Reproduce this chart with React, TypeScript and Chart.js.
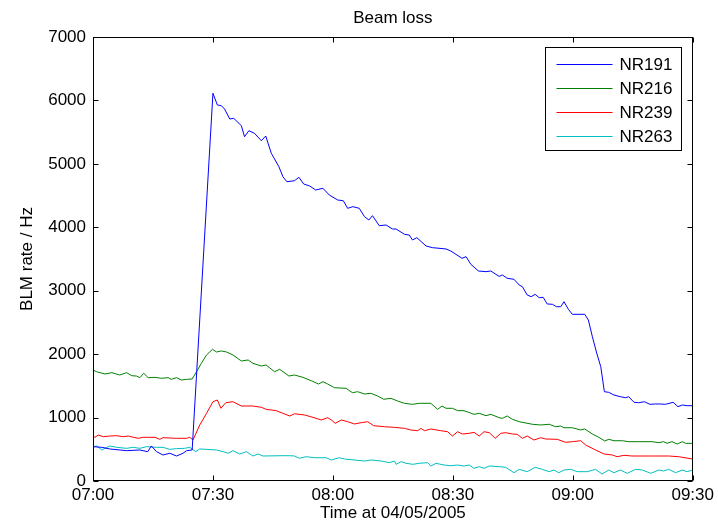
import React, { useEffect, useRef } from "react";
import { Chart, registerables } from "chart.js";

Chart.register(...registerables);

const chartTitle = "Beam loss";
const xTitle = "Time at 04/05/2005";
const yTitle = "BLM rate / Hz";
const seriesNames = ["NR191", "NR216", "NR239", "NR263"];
const seriesColors = ["#0000FF", "#008000", "#FF0000", "#00BFBF"];
const startHour = 7;
const xMin = 0;
const xMax = 150;
const yMin = 0;
const yMax = 7000;

// minutes after 07:00
const nr191Minutes = [0, 2.2, 4.2, 8.4, 11.7, 13.7, 14.6, 15.9, 17.5, 19.2, 20.9, 22.5, 23.4, 24.8, 30, 31.1, 32.1, 32.9, 34.2, 35.2, 37.1, 37.9, 39, 40.4, 42.1, 43.2, 44.6, 46.5, 47.5, 48.5, 50.4, 51.5, 52.7, 54.2, 55.7, 57.5, 59.1, 61.2, 62.6, 63.7, 65, 66.6, 67.9, 69, 69.9, 71.6, 73.3, 74.9, 75.8, 77.9, 79.1, 79.9, 81, 83.3, 84.9, 88.3, 89.5, 92.3, 93.3, 94.5, 96.4, 98.3, 99.5, 101.6, 102.4, 103.6, 105.3, 106.6, 107.4, 108.6, 109.6, 110.6, 111.6, 112.6, 113.6, 114.9, 115.9, 117, 117.8, 118.9, 119.9, 123, 123.9, 124.9, 126, 127, 127.9, 129, 130.3, 131.9, 133.2, 134, 135.3, 136.5, 137.9, 139.3, 140.7, 141.9, 143.2, 145.1, 146.3, 147.4, 148.6, 150];
const nr191Values = [541, 531, 505, 478, 489, 462, 552, 462, 410, 437, 394, 437, 478, 489, 6113, 5928, 5917, 5865, 5707, 5718, 5602, 5428, 5523, 5481, 5365, 5439, 5166, 4955, 4797, 4718, 4734, 4788, 4682, 4651, 4588, 4615, 4509, 4430, 4419, 4299, 4325, 4299, 4167, 4115, 4183, 4025, 4036, 3973, 3973, 3889, 3878, 3800, 3836, 3705, 3679, 3658, 3626, 3511, 3537, 3416, 3311, 3300, 3311, 3225, 3248, 3196, 3180, 3090, 3063, 2932, 2906, 2943, 2890, 2896, 2791, 2786, 2748, 2748, 2827, 2707, 2628, 2628, 2538, 2275, 2013, 1802, 1408, 1398, 1356, 1329, 1313, 1329, 1241, 1234, 1250, 1209, 1214, 1214, 1209, 1241, 1172, 1198, 1187, 1187];

const nr216Minutes = [0, 0.9, 3, 4.7, 6.7, 8.4, 9.7, 10.9, 11.7, 12.7, 13.8, 15.5, 17.1, 18.8, 19.6, 20.9, 22.1, 23.4, 24.8, 25.9, 27.1, 28.4, 29.9, 30.9, 32.1, 33.4, 35, 37.1, 38.8, 40, 42.1, 43.3, 45.4, 46.7, 49, 50.4, 52.5, 54.6, 56.4, 57.5, 58.7, 60.4, 63.3, 64.9, 66.2, 67.9, 69.5, 71.2, 72.7, 74.5, 76.2, 77.9, 79.9, 81.6, 84.5, 86.2, 87.3, 88.3, 89.9, 91.2, 92.8, 95.3, 96.6, 98.3, 99.5, 101.6, 102.4, 103.6, 104.9, 106.6, 109.9, 112, 114.1, 115.7, 117, 117.8, 119.9, 122, 123, 124.9, 126.5, 128, 129, 130.3, 132.4, 134, 136.5, 139.8, 141.5, 142.7, 143.6, 144.8, 146.1, 147.4, 148.2, 150];
const nr216Values = [1750, 1723, 1687, 1708, 1671, 1708, 1660, 1655, 1629, 1698, 1629, 1634, 1619, 1629, 1603, 1629, 1592, 1603, 1608, 1723, 1855, 1987, 2076, 2034, 2050, 2034, 1987, 1892, 1908, 1855, 1813, 1829, 1723, 1761, 1655, 1671, 1634, 1581, 1529, 1566, 1529, 1471, 1461, 1392, 1408, 1372, 1382, 1340, 1288, 1304, 1261, 1225, 1209, 1225, 1225, 1130, 1182, 1146, 1146, 1109, 1109, 1051, 1067, 1030, 1051, 998, 988, 1025, 973, 935, 894, 883, 894, 856, 867, 840, 840, 804, 820, 741, 689, 631, 657, 635, 635, 620, 620, 620, 604, 620, 594, 620, 583, 620, 594, 594];

const nr239Minutes = [0, 0.5, 1.3, 2.6, 4.2, 5.9, 7.6, 8.8, 10.1, 11.3, 12.6, 15.5, 16.7, 17.5, 20.9, 23.4, 24.2, 25, 26.7, 28.4, 30, 31.1, 32, 33.2, 35, 37.1, 40, 42.1, 43.3, 45.8, 47.5, 49.2, 50.4, 52.9, 55, 57.1, 58.7, 59.6, 60.6, 62.1, 63.7, 65.4, 67.1, 68.7, 70.2, 72.9, 75.4, 77.9, 79.5, 81.2, 82, 82.9, 84.5, 87, 88.7, 89.9, 91.2, 92.4, 94.1, 95.3, 96.6, 97.8, 99.1, 100.6, 102, 103.2, 104.9, 106.1, 107.4, 108.6, 110.3, 112, 113.2, 116.1, 118.2, 119.9, 122, 123.2, 125.7, 127.8, 129.9, 131.1, 132.8, 134.8, 139, 144, 146.5, 150];
const nr239Values = [709, 689, 725, 698, 709, 714, 698, 709, 689, 673, 689, 689, 657, 683, 673, 673, 689, 646, 883, 1067, 1250, 1277, 1146, 1234, 1250, 1182, 1182, 1162, 1130, 1109, 1067, 1025, 1060, 1041, 1004, 962, 998, 962, 909, 962, 935, 899, 920, 935, 872, 856, 846, 830, 804, 793, 830, 793, 820, 793, 777, 709, 777, 741, 752, 767, 709, 777, 762, 673, 752, 762, 741, 736, 673, 709, 646, 683, 662, 657, 610, 620, 635, 568, 489, 426, 410, 383, 405, 394, 394, 394, 383, 347];

const nr263Minutes = [0, 0.9, 2.2, 4.2, 5.9, 8.4, 10.1, 11.7, 13.4, 15.9, 17.5, 19.2, 20.9, 22.9, 24.2, 25.7, 26.7, 30.9, 32.6, 33.8, 35, 36.7, 38.4, 40, 41.3, 42.5, 47.5, 49.2, 50.4, 51.6, 53.3, 55.4, 58.3, 59.6, 61.6, 62.9, 65.4, 67.9, 69.5, 72.1, 74.1, 75.4, 75.8, 77.1, 78.3, 80, 81.6, 83.7, 84.5, 85.8, 87.8, 89.5, 91.2, 92.8, 94.1, 95.3, 96.6, 97.8, 99.1, 101.6, 103.2, 105.3, 106.6, 108.6, 110.6, 112.4, 114.1, 115.3, 116.5, 117.8, 119.5, 121.1, 123.6, 125.7, 127.3, 129, 130.3, 131.9, 133.6, 135.7, 137.4, 139.5, 141.5, 142.7, 144, 145.7, 147.4, 148.6, 150];
const nr263Values = [541, 552, 489, 552, 531, 515, 531, 515, 541, 531, 531, 499, 510, 515, 531, 462, 505, 489, 462, 437, 478, 426, 462, 394, 426, 394, 399, 399, 394, 358, 383, 367, 367, 331, 367, 347, 331, 315, 331, 315, 289, 315, 263, 305, 279, 263, 279, 289, 236, 279, 252, 241, 252, 236, 252, 200, 226, 200, 236, 226, 216, 131, 184, 147, 216, 184, 147, 173, 131, 173, 184, 147, 147, 184, 110, 173, 131, 173, 121, 184, 173, 121, 173, 158, 184, 131, 173, 147, 173];

const seriesMinutes = [nr191Minutes, nr216Minutes, nr239Minutes, nr263Minutes];
const seriesValues = [nr191Values, nr216Values, nr239Values, nr263Values];

const FONT = "'Liberation Sans', Arial, Helvetica, sans-serif";
const FS = 17;

function fmtTime(v: number): string {
  const total = startHour * 60 + Math.round(v);
  const h = Math.floor(total / 60);
  const m = total % 60;
  return String(h).padStart(2, "0") + ":" + String(m).padStart(2, "0");
}

const matlabPlugin = {
  id: "matlabDecor",
  afterDatasetsDraw(chart: any) {
    const { ctx, chartArea: a, scales } = chart;
    const xs = scales.x;
    const ys = scales.y;
    ctx.save();
    // frame
    ctx.strokeStyle = "#000";
    ctx.lineWidth = 1;
    const L = Math.round(a.left) + 0.5;
    const R = Math.round(a.right) - 0.5;
    const T = Math.round(a.top) + 0.5;
    const B = Math.round(a.bottom) - 0.5;
    ctx.strokeRect(L, T, R - L, B - T);
    const tl = 5;
    ctx.beginPath();
    xs.ticks.forEach((t: any) => {
      const px = Math.round(xs.getPixelForValue(t.value)) + 0.5;
      ctx.moveTo(px, B);
      ctx.lineTo(px, B - tl);
      ctx.moveTo(px, T);
      ctx.lineTo(px, T + tl);
    });
    ys.ticks.forEach((t: any) => {
      const py = Math.round(ys.getPixelForValue(t.value)) + 0.5;
      ctx.moveTo(L, py);
      ctx.lineTo(L + tl, py);
      ctx.moveTo(R, py);
      ctx.lineTo(R - tl, py);
    });
    ctx.stroke();

    // title
    ctx.fillStyle = "#000";
    ctx.font = `${FS}px ${FONT}`;
    ctx.textAlign = "center";
    ctx.textBaseline = "middle";
    ctx.fillText(chartTitle, (a.left + a.right) / 2, 18);

    // legend
    const bw = 136;
    const bh = 103;
    const bx = Math.round(a.right) - 12 - bw + 0.5;
    const by = Math.round(a.top) + 10 + 0.5;
    ctx.fillStyle = "#fff";
    ctx.fillRect(bx, by, bw, bh);
    ctx.strokeStyle = "#000";
    ctx.strokeRect(bx, by, bw, bh);
    chart.data.datasets.forEach((ds: any, i: number) => {
      const cy = Math.round(by + 16 + i * 24.3) + 0.5;
      ctx.strokeStyle = ds.borderColor;
      ctx.lineWidth = 1;
      ctx.beginPath();
      ctx.moveTo(bx + 11, cy);
      ctx.lineTo(bx + 67, cy);
      ctx.stroke();
      ctx.fillStyle = "#000";
      ctx.textAlign = "left";
      ctx.textBaseline = "middle";
      ctx.fillText(ds.label, bx + 74, cy + 1);
    });
    ctx.restore();
  },
};

export default function App() {
  const ref = useRef<HTMLCanvasElement | null>(null);
  useEffect(() => {
    if (!ref.current) return;
    const datasets = seriesNames.map((name, i) => ({
      label: name,
      data: seriesMinutes[i].map((m, j) => ({ x: m, y: seriesValues[i][j] })),
      borderColor: seriesColors[i],
      backgroundColor: seriesColors[i],
      borderWidth: 1,
      pointRadius: 0,
      tension: 0,
      fill: false,
    }));
    const chart = new Chart(ref.current, {
      type: "line",
      data: { datasets },
      options: {
        animation: false,
        responsive: false,
        maintainAspectRatio: false,
        events: [],
        layout: { padding: { left: 0, top: 37, right: 24, bottom: 0 } },
        plugins: {
          legend: { display: false },
          title: { display: false },
          tooltip: { enabled: false },
        },
        scales: {
          x: {
            type: "linear",
            min: xMin,
            max: xMax,
            border: { display: false },
            grid: { display: false, drawTicks: false },
            ticks: {
              stepSize: 30,
              color: "#000",
              padding: 4,
              maxRotation: 0,
              font: { family: FONT, size: FS },
              callback: (v: any) => fmtTime(Number(v)),
            },
            title: {
              display: true,
              text: xTitle,
              color: "#000",
              font: { family: FONT, size: FS },
              padding: { top: 0, bottom: 0 },
            },
            afterFit: (s: any) => {
              s.height = 43;
            },
          },
          y: {
            type: "linear",
            min: yMin,
            max: yMax,
            border: { display: false },
            grid: { display: false, drawTicks: false },
            ticks: {
              stepSize: 1000,
              color: "#000",
              padding: 7,
              font: { family: FONT, size: FS },
              callback: (v: any) => String(v),
            },
            title: {
              display: true,
              text: yTitle,
              color: "#000",
              font: { family: FONT, size: FS },
              padding: { top: 17, bottom: 0 },
            },
            afterFit: (s: any) => {
              s.width = 93;
            },
          },
        },
      },
      plugins: [matlabPlugin],
    });
    return () => chart.destroy();
  }, []);
  return (
    <div style={{ position: "fixed", left: 0, top: 0, width: 718, height: 524, background: "#fff" }}>
      <canvas ref={ref} width={718} height={524} style={{ display: "block", width: 718, height: 524 }} />
    </div>
  );
}
